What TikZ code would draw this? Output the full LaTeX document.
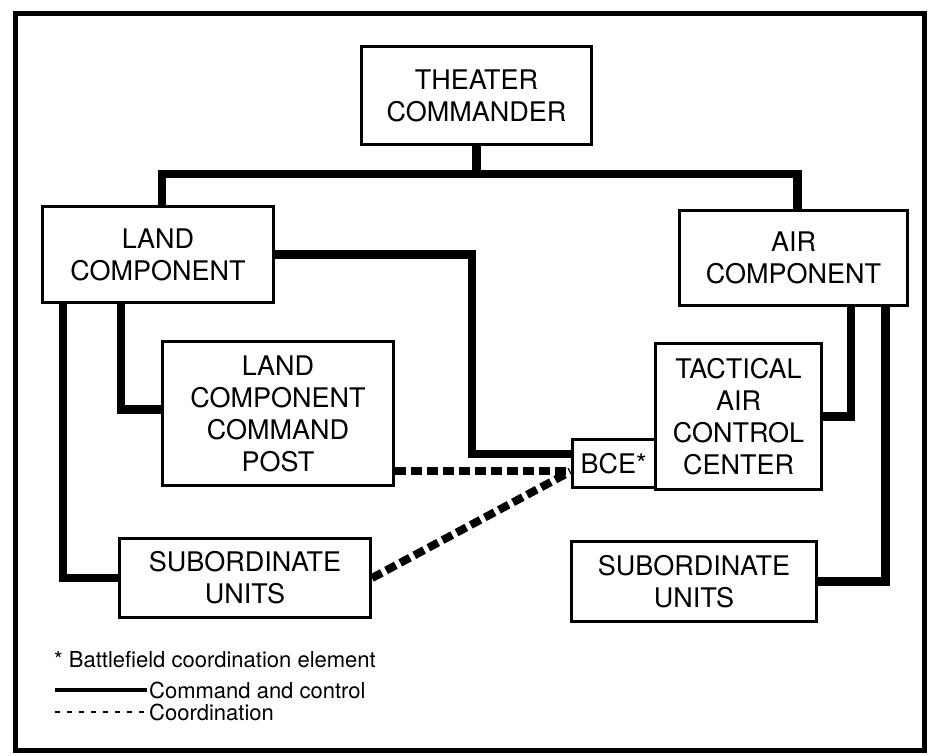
\documentclass[tikz,border=0pt]{standalone}
\usepackage{fontspec}
\setmainfont{TeX Gyre Heros}
\usetikzlibrary{positioning,calc}
\tikzstyle{unit} = [rectangle, draw=black, line width=3pt, align=center, inner sep=2pt, font=\fontsize{27}{32}\selectfont]
\tikzstyle{cmdline} = [line width=8.5pt]
\tikzstyle{coordline} = [line width=8pt, dash pattern=on 11pt off 5pt]
\tikzstyle{legend} = [inner sep=2pt, font=\fontsize{22}{26}\selectfont]

\begin{document}
\begin{tikzpicture}[x=1pt, y=-1pt]
\useasboundingbox (0,0) rectangle (928,755);
\draw[line width=5pt] (15,13) rectangle (924,750);

\node (tc) [unit, minimum width=230pt, minimum height=98pt] at (476.5,95.5) {THEATER\\COMMANDER};
\node (lc) [unit, minimum width=231pt, minimum height=96pt] at (158,254.5) {LAND\\COMPONENT};
\node (ac) [unit, minimum width=228pt, minimum height=95pt] at (793.5,258) {AIR\\COMPONENT};
\node (lccp) [unit, minimum width=231pt, minimum height=144pt] at (278,413.5) {LAND\\COMPONENT\\COMMAND\\POST};
\node (tacc) [unit, minimum width=166pt, minimum height=146pt] at (738.5,416.5) {TACTICAL\\AIR\\CONTROL\\CENTER};
\node (bce) [unit, minimum width=83pt, minimum height=48pt, inner sep=0pt] at (613.5,463.5) {BCE*};
\node (sul) [unit, minimum width=251pt, minimum height=79pt] at (245,578) {SUBORDINATE\\UNITS};
\node (sur) [unit, minimum width=245pt, minimum height=80pt] at (694,581.5) {SUBORDINATE\\UNITS};

\coordinate (bus) at (476.5,174);
\coordinate (lcbend) at (472,454);

% command and control
\draw [cmdline] (tc) -- (bus);
\draw [cmdline] ([xshift=4pt]lc.north) |- (bus) -| ([xshift=4pt]ac.north);
\draw [cmdline] (lc.east) -| (lcbend) -- (lcbend -| bce.west);
\draw [cmdline] ([xshift=-37pt]lc.south) |- ([yshift=4pt]lccp.west);
\draw [cmdline] ([xshift=-95pt]lc.south) |- (sul.west);
\draw [cmdline] ([xshift=57.5pt]ac.south) |- (tacc.east);
\draw [cmdline] ([xshift=92pt]ac.south) |- (sur.east);

% coordination
\draw [coordline] ([yshift=16pt]lccp.south east) -- ([yshift=16pt]lccp.south east -| bce.west);
\draw [coordline] (sul.east) -- ([yshift=-8pt]bce.west);

% legend
\node (note) [legend, anchor=west] at (52,660) {* Battlefield coordination element};
\node (cc) [legend, anchor=west] at (147,690) {Command and control};
\node (co) [legend, anchor=west] at (147,712) {Coordination};
\draw [line width=4pt] (55,690) -- (cc.west);
\draw [line width=2.5pt, dash pattern=on 5pt off 7pt] (55,712) -- (co.west);
\end{tikzpicture}
\end{document}
